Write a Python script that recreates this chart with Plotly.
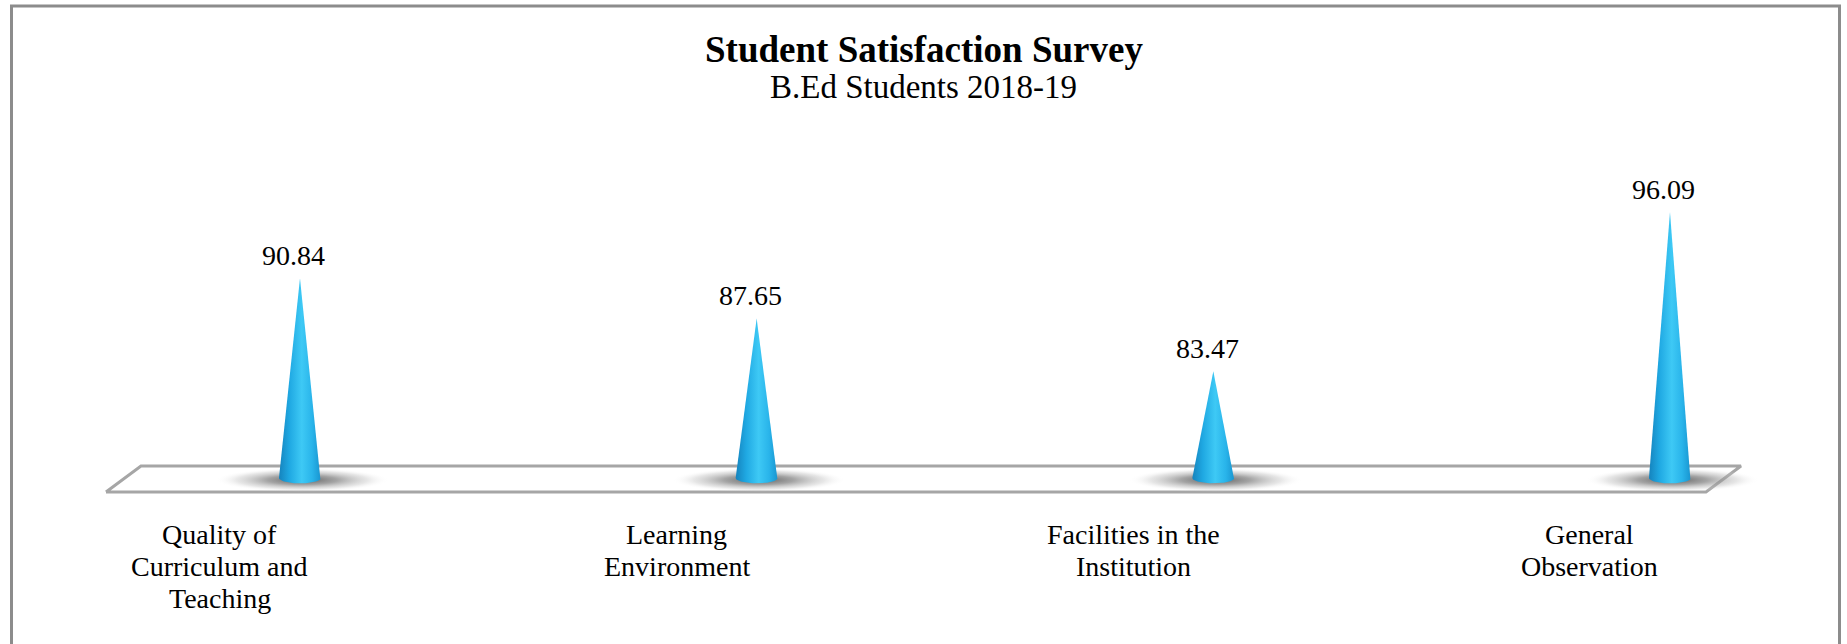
"""Student satisfaction survey chart drawn as 3D-style cones on a floor."""

import numpy as np
import plotly.graph_objects as go

categories = [
    "Quality of<br>Curriculum and<br>Teaching",
    "Learning<br>Environment",
    "Facilities in the<br>Institution",
    "General<br>Observation",
]
scores = [90.84, 87.65, 83.47, 96.09]
base_value = 75

FONT = "Liberation Serif, Times New Roman, serif"
W, H = 1847, 644

# pixel <-> data mapping (margins are zero, so the plot area is the page)
X_RANGE = [-0.6569, 3.3876]
Y_RANGE = [61.84, 112.91]

fig = go.Figure()

# floor of the 3d chart
floor_x = [-0.4248, -0.3482, 3.1555, 3.0788, -0.4248]
floor_y = [73.89, 75.95, 75.95, 73.89, 73.89]
fig.add_trace(go.Scatter(
    x=floor_x, y=floor_y, mode="lines", fill="toself",
    fillcolor="white", line=dict(color="#a6a6a6", width=3),
    hoverinfo="skip",
))

# soft shadows under each cone
t = np.linspace(0, 2 * np.pi, 80)
for i in range(len(scores)):
    fig.add_trace(go.Scatter(
        x=i + 0.005 + 0.19 * np.cos(t),
        y=74.85 + 0.95 * np.sin(t),
        mode="lines", line=dict(width=0), fill="toself",
        fillgradient=dict(
            type="radial",
            colorscale=[[0, "rgba(75,75,75,0.9)"], [0.4, "rgba(125,125,125,0.7)"],
                        [0.75, "rgba(185,185,185,0.35)"], [1, "rgba(255,255,255,0)"]],
        ),
        hoverinfo="skip",
    ))

# cones
half_w = 0.046
ell_h = 0.42
arc = np.linspace(0, np.pi, 40)
cone_scale = [
    [0.0, "#1583bd"], [0.25, "#1fa8e2"], [0.55, "#3ec9f5"],
    [0.8, "#29b4ea"], [1.0, "#1996d1"],
]
for i, v in enumerate(scores):
    xs = np.concatenate([[i], i + half_w * np.cos(arc), [i]])
    ys = np.concatenate([[v], base_value - ell_h * np.sin(arc), [v]])
    fig.add_trace(go.Scatter(
        x=xs, y=ys, mode="lines", line=dict(width=0), fill="toself",
        fillgradient=dict(type="horizontal", colorscale=cone_scale),
        name=categories[i].replace("<br>", " "),
        hovertemplate=f"{v:.2f}<extra></extra>",
    ))

# value labels above cone tips
for i, v in enumerate(scores):
    fig.add_annotation(
        x=i, y=v, text=f"{v:.2f}", showarrow=False,
        xshift=-6, yshift=23, yanchor="middle",
        font=dict(family=FONT, size=28, color="black"),
    )

# category labels (offset left as in the perspective view), one line each
for i, c in enumerate(categories):
    for j, line in enumerate(c.split("<br>")):
        fig.add_annotation(
            x=i, y=1 - (534 + 32.4 * j) / H, yref="paper", text=line,
            showarrow=False, xshift=-80, yanchor="middle",
            font=dict(family=FONT, size=28, color="black"),
        )

# title and subtitle
fig.add_annotation(
    x=0.5, y=1 - 50 / H, xref="paper", yref="paper", showarrow=False,
    text="<b>Student Satisfaction Survey</b>", yanchor="middle",
    font=dict(family=FONT, size=37, color="black"),
)
fig.add_annotation(
    x=0.5, y=1 - 87 / H, xref="paper", yref="paper", showarrow=False,
    text="B.Ed Students 2018-19", yanchor="middle",
    font=dict(family=FONT, size=33, color="black"),
)

# outer chart frame
fig.add_shape(
    type="rect", xref="paper", yref="paper",
    x0=11.5 / W, x1=1839.5 / W, y0=-0.05, y1=1 - 6 / H,
    line=dict(color="#8c8c8c", width=3), layer="above",
)

fig.update_layout(
    width=W, height=H, autosize=False,
    margin=dict(l=0, r=0, t=0, b=0),
    paper_bgcolor="white", plot_bgcolor="white",
    showlegend=False,
    xaxis=dict(range=X_RANGE, visible=False, fixedrange=True),
    yaxis=dict(range=Y_RANGE, visible=False, fixedrange=True),
)

# drop the browser's default body margin so the chart sits at the page corner
fig.write_html(
    "out.html",
    config={"displayModeBar": False},
    post_script="document.body.style.margin = '0';",
)
